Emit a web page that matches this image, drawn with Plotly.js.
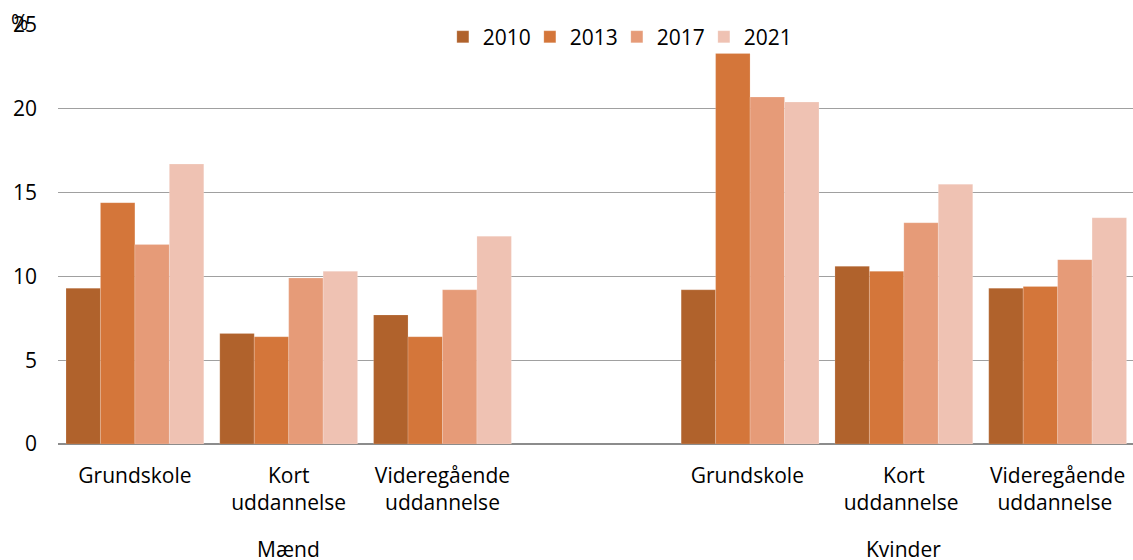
<!DOCTYPE html>
<html>
<head>
<meta charset="utf-8">
<script src="https://cdn.plot.ly/plotly-3.0.1.min.js"></script>
<style>html,body{margin:0;padding:0;background:#fff;overflow:hidden}#chart{width:1133px;height:560px}</style>
</head>
<body>
<div id="chart"></div>
<script>
const categories = ["Grundskole", "Kort<br>uddannelse", "Videregående<br>uddannelse", " ", "Grundskole ", "Kort<br>uddannelse ", "Videregående<br>uddannelse "];
const groups = ["Mænd", "Kvinder"];
const groupCenters = ["Kort<br>uddannelse", "Kort<br>uddannelse "];
const years = ["2010", "2013", "2017", "2021"];
const v2010 = [9.3, 6.6, 7.7, null, 9.2, 10.6, 9.3];
const v2013 = [14.4, 6.4, 6.4, null, 23.3, 10.3, 9.4];
const v2017 = [11.9, 9.9, 9.2, null, 20.7, 13.2, 11.0];
const v2021 = [16.7, 10.3, 12.4, null, 20.4, 15.5, 13.5];
const colors = ["#B0622C", "#D4763A", "#E69B78", "#EFC2B3"];
const series = [v2010, v2013, v2017, v2021];
const yTicks = [0, 5, 10, 15, 20, 25];

const font = "Open Sans, sans-serif";
const traces = series.map((vals, i) => ({
  type: "bar",
  name: years[i],
  x: categories,
  y: vals,
  marker: {color: colors[i], line: {color: "rgba(255,255,255,0.35)", width: 0.5}},
  hoverinfo: "x+y+name"
}));

const annotations = groups.map((g, i) => ({
  text: g, xref: "x", yref: "paper", x: groupCenters[i], y: -0.25,
  xanchor: "center", yanchor: "middle", showarrow: false,
  font: {family: font, size: 21, color: "#000"}
}));
annotations.push({
  text: "%", xref: "paper", yref: "paper", x: -0.0358, y: 1.008,
  xanchor: "center", yanchor: "middle", showarrow: false,
  font: {family: font, size: 21, color: "#000"}
});

const layout = {
  width: 1133, height: 560,
  margin: {l: 58, r: 0, t: 25, b: 116, pad: 0},
  paper_bgcolor: "#fff", plot_bgcolor: "#fff",
  barmode: "group", bargap: 0.104, bargroupgap: 0,
  font: {family: font, size: 21, color: "#000"},
  showlegend: true,
  legend: {orientation: "h", x: 0.358, xanchor: "left", y: 0.971, yanchor: "middle",
           bgcolor: "rgba(0,0,0,0)", font: {family: font, size: 21, color: "#000"},
           traceorder: "normal", itemwidth: 30, entrywidth: 42, entrywidthmode: "pixels"},
  xaxis: {type: "category", range: [-0.5, 6.49], showgrid: false, showline: false,
          ticks: "", tickfont: {family: font, size: 21, color: "#000"},
          ticklabelstandoff: 17, fixedrange: true},
  yaxis: {range: [0, 25], tickvals: yTicks, ticktext: yTicks.map(String), showgrid: true,
          gridcolor: "#a0a0a0", gridwidth: 1.3, zeroline: true, zerolinecolor: "#8c8c8c",
          zerolinewidth: 1.5, showline: false, ticks: "",
          tickfont: {family: font, size: 21, color: "#000"}, ticklabelstandoff: 20, fixedrange: true},
  annotations: annotations
};

Plotly.newPlot("chart", traces, layout, {displayModeBar: false, staticPlot: true});
</script>
</body>
</html>
